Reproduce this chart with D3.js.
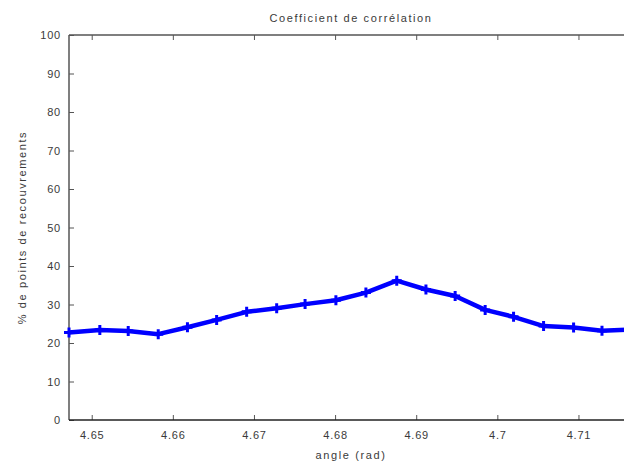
<!DOCTYPE html>
<html>
<head>
<meta charset="utf-8">
<script src="https://cdn.jsdelivr.net/npm/d3@7"></script>
<style>
  html, body { margin: 0; padding: 0; background: #fff; overflow: hidden; }
  svg { display: block; }
  text { font-family: "Liberation Sans", Arial, sans-serif; fill: #3a3a3a; }
</style>
</head>
<body>
<div id="chart"></div>
<script>
// Angle samples (rad) and percentage of overlapping points
const angles = [4.6472, 4.6510, 4.6545, 4.6582, 4.6618, 4.6654, 4.6691, 4.6728, 4.6763, 4.6801,
                4.6838, 4.6876, 4.6912, 4.6948, 4.6985, 4.7020, 4.7057, 4.7094, 4.7129, 4.7166];
const overlap = [22.7, 23.4, 23.1, 22.3, 24.1, 26.0, 28.1, 29.0, 30.1, 31.1,
                 33.1, 36.2, 33.9, 32.2, 28.6, 26.8, 24.4, 24.0, 23.2, 23.5];
const xTicks = [4.65, 4.66, 4.67, 4.68, 4.69, 4.70, 4.71];
const xTickLabels = ["4.65", "4.66", "4.67", "4.68", "4.69", "4.7", "4.71"];
const yTicks = [0, 10, 20, 30, 40, 50, 60, 70, 80, 90, 100];

const W = 624, H = 465;
const plotLeft = 69, plotRight = 632, plotTop = 35, plotBottom = 420;

const svg = d3.select("#chart").append("svg").attr("width", W).attr("height", H);

const x = d3.scaleLinear().domain([angles[0], angles[angles.length - 1]]).range([plotLeft, plotRight]);
const y = d3.scaleLinear().domain([0, 100]).range([plotBottom, plotTop]);

const axisColor = "#555";
const tickLen = 5;

// Axes with inward ticks (frame lines drawn separately below)
const gBottom = svg.append("g").attr("transform", `translate(0,${plotBottom})`)
  .call(d3.axisBottom(x).tickValues(xTicks).tickSizeInner(-tickLen).tickSizeOuter(0)
    .tickFormat((d, i) => xTickLabels[i]).tickPadding(11));
const gTop = svg.append("g").attr("transform", `translate(0,${plotTop})`)
  .call(d3.axisTop(x).tickValues(xTicks).tickSizeInner(-tickLen).tickSizeOuter(0).tickFormat(""));
const gLeft = svg.append("g").attr("transform", `translate(${plotLeft},0)`)
  .call(d3.axisLeft(y).tickValues(yTicks).tickSizeInner(-tickLen).tickSizeOuter(0).tickPadding(8));

[gBottom, gTop, gLeft].forEach(g => {
  g.select(".domain").remove();
  g.selectAll(".tick line").attr("stroke", axisColor).attr("stroke-width", 1);
  g.selectAll(".tick text").attr("font-size", 11).attr("fill", "#3a3a3a")
    .attr("letter-spacing", 0.8)
    .style("font-family", "'Liberation Sans', Arial, sans-serif");
});

// Frame: left, top and bottom edges; the right side runs past the page
const frameRight = Math.min(plotRight, W);
const frame = svg.append("g").attr("stroke-width", 1.5).attr("fill", "none");
frame.append("line").attr("x1", plotLeft).attr("x2", plotLeft)
  .attr("y1", plotTop).attr("y2", plotBottom).attr("stroke", axisColor);
frame.append("line").attr("x1", plotLeft).attr("x2", frameRight)
  .attr("y1", plotTop).attr("y2", plotTop).attr("stroke", axisColor);
frame.append("line").attr("x1", plotLeft).attr("x2", frameRight)
  .attr("y1", plotBottom).attr("y2", plotBottom).attr("stroke", "#222");

// Data line with plus markers
const line = d3.line().x((d, i) => x(angles[i])).y(d => y(d));
const g = svg.append("g").style("filter", "blur(0.6px)");
g.append("path").datum(overlap).attr("d", line)
  .attr("fill", "none").attr("stroke", "#0000ff").attr("stroke-width", 4.5)
  .attr("stroke-linejoin", "round");

const m = 5;
g.selectAll(".mk").data(overlap).enter().append("path")
  .attr("class", "mk")
  .attr("d", (d, i) => {
    const cx = x(angles[i]), cy = y(d);
    return `M${cx - m},${cy}H${cx + m}M${cx},${cy - m}V${cy + m}`;
  })
  .attr("fill", "none").attr("stroke", "#0000ff").attr("stroke-width", 3);

// Titles
const labelSpacing = 1.6;
svg.append("text").attr("x", 351).attr("y", 22).attr("text-anchor", "middle")
  .attr("font-size", 11).attr("letter-spacing", labelSpacing).text("Coefficient de corrélation");
svg.append("text").attr("x", 351).attr("y", 459).attr("text-anchor", "middle")
  .attr("font-size", 11).attr("letter-spacing", labelSpacing).text("angle (rad)");
svg.append("text").attr("transform", `translate(26,${(plotTop + plotBottom) / 2}) rotate(-90)`)
  .attr("text-anchor", "middle").attr("font-size", 11).attr("letter-spacing", labelSpacing)
  .text("% de points de recouvrements");
</script>
</body>
</html>
